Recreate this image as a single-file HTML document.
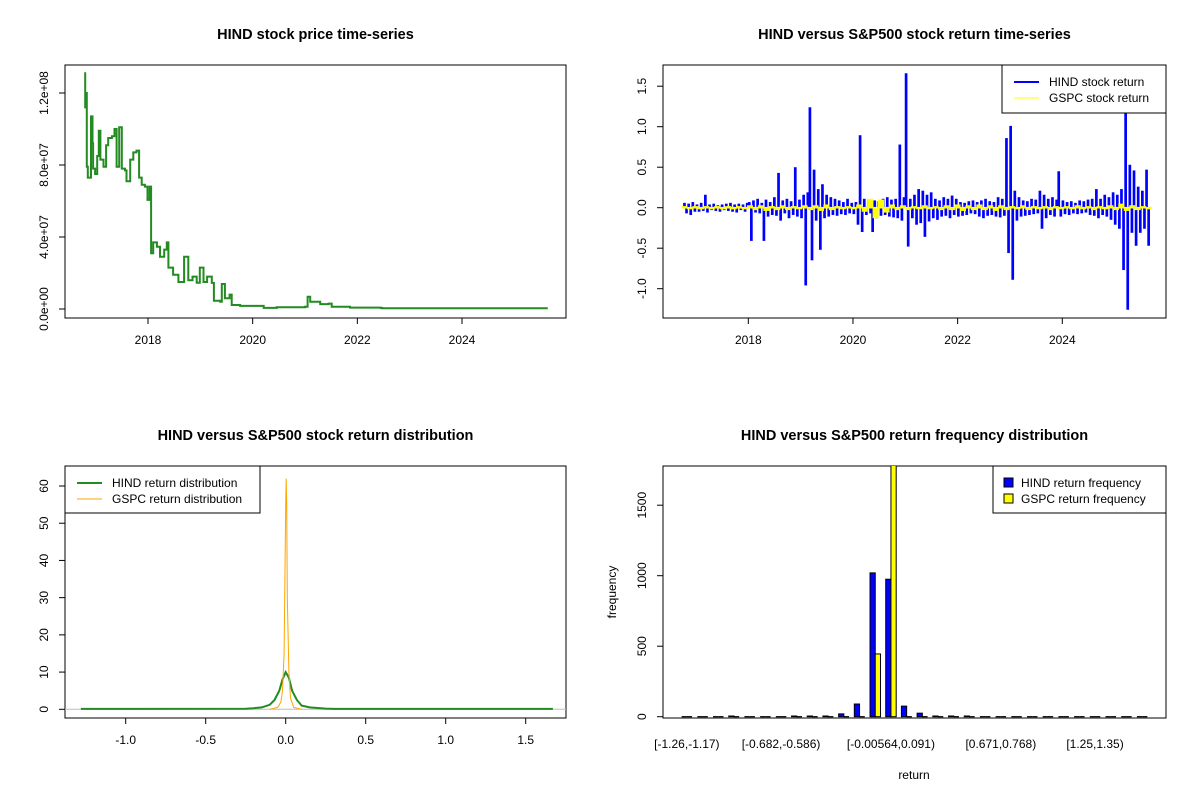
<!DOCTYPE html>
<html><head><meta charset="utf-8"><style>
html,body{margin:0;padding:0;background:#fff}
svg{display:block;font-family:"Liberation Sans",Arial,sans-serif}
</style></head><body>
<svg id="chart" width="1200" height="800" viewBox="0 0 1200 800"></svg>
<script>
// ---- Panel 1: price ----
const priceYears=[2016.78,2016.80,2016.81,2016.83,2016.85,2016.91,2016.94,2016.95,2016.99,2017.03,2017.06,2017.09,2017.15,2017.20,2017.24,2017.31,2017.36,2017.40,2017.45,2017.50,2017.56,2017.59,2017.66,2017.72,2017.78,2017.83,2017.88,2017.94,2017.99,2018.03,2018.06,2018.10,2018.17,2018.23,2018.31,2018.36,2018.39,2018.48,2018.58,2018.69,2018.77,2018.85,2018.93,2018.99,2019.06,2019.13,2019.22,2019.26,2019.38,2019.41,2019.47,2019.56,2019.60,2019.76,2020.14,2020.21,2020.46,2020.78,2021.00,2021.05,2021.10,2021.29,2021.45,2021.51,2021.86,2022.44,2022.47,2025.64];
const priceVals=[13.1,11.2,12.0,7.9,7.3,10.7,9.2,7.8,7.5,8.5,9.9,8.3,7.9,9.1,9.5,9.6,10.0,7.9,10.1,7.8,7.7,7.1,8.3,8.7,8.8,7.3,6.9,6.8,6.06,6.8,3.1,3.7,3.46,2.9,3.3,3.7,2.3,1.9,1.5,2.9,1.6,1.8,1.46,2.3,1.5,1.8,1.45,0.46,0.4,1.39,0.6,0.8,0.22,0.17,0.17,0.06,0.1,0.1,0.13,0.68,0.4,0.27,0.3,0.13,0.08,0.06,0.04,0.04]; // x 1e7
const priceTicks=[0,4,8,12];
const priceTickLabels=["0.0e+00","4.0e+07","8.0e+07","1.2e+08"];
const yearTicks=[2018,2020,2022,2024];
// ---- Panel 2: returns ----
const retStart=2016.78, retEnd=2025.65;
const hindRet=[0.05,-0.06,0.04,-0.08,0.06,-0.04,
0.03,-0.04,0.05,-0.03,0.15,-0.05,0.03,-0.02,0.04,-0.03,0.02,-0.04,0.03,-0.02,0.04,-0.03,0.05,-0.04,0.03,-0.05,0.04,-0.02,0.03,-0.04,0.05,
0.06,-0.40,0.08,-0.05,0.10,-0.06,0.05,-0.40,0.09,-0.10,0.06,-0.08,0.12,-0.09,0.42,-0.15,0.08,-0.06,0.10,-0.12,0.07,-0.08,0.49,-0.10,0.09,
-0.12,0.15,-0.95,0.18,1.23,-0.64,0.46,-0.15,0.22,-0.51,0.28,-0.12,0.15,-0.10,0.12,-0.08,0.10,-0.09,0.08,-0.07,0.06,-0.08,0.10,-0.06,0.05,
-0.07,0.06,-0.20,0.885,-0.29,0.10,-0.08,0.09,-0.06,-0.29,0.08,-0.12,0.07,-0.09,0.10,-0.08,0.12,-0.10,0.09,-0.11,0.10,-0.12,0.77,-0.15,0.12,
1.65,-0.47,0.10,-0.12,0.15,-0.20,0.22,-0.18,0.20,-0.35,0.15,-0.16,0.18,-0.12,0.10,-0.14,0.08,-0.10,0.12,-0.09,0.10,-0.12,0.14,-0.08,0.10,
-0.10,0.06,-0.09,0.05,-0.08,0.07,-0.06,0.08,-0.07,0.06,-0.10,0.08,-0.12,0.10,-0.09,0.07,-0.08,0.06,-0.10,0.12,-0.11,0.10,-0.09,0.85,-0.55,
1.0,-0.88,0.20,-0.15,0.12,-0.10,0.08,-0.09,0.07,-0.08,0.10,-0.07,0.09,-0.06,0.20,-0.25,0.15,-0.12,0.10,-0.08,0.12,-0.10,0.09,0.44,-0.10,
0.08,-0.07,0.06,-0.08,0.07,-0.06,0.05,-0.07,0.08,-0.06,0.07,-0.05,0.09,-0.08,0.10,-0.09,0.22,-0.12,0.10,-0.08,0.15,-0.10,0.12,-0.14,0.18,
-0.20,0.15,-0.25,0.22,-0.76,1.17,-1.25,0.52,-0.30,0.45,-0.46,0.25,-0.30,0.20,-0.25,0.46,-0.46];
const gspcRet=[0.01,-0.01,0.01,-0.01,0.01,-0.01,0.01,-0.01,0.01,-0.01,0.01,-0.01,0.02,-0.02,0.02,-0.03,0.01,-0.02,0.02,-0.02,0.01,-0.01,0.02,-0.02,0.02,-0.03,0.03,-0.02,0.01,-0.01,0.01,-0.01,0.03,-0.04,0.10,-0.12,0.09,-0.05,0.03,-0.02,0.02,-0.02,0.01,-0.01,0.02,-0.01,0.01,-0.02,0.02,-0.02,0.03,-0.03,0.02,-0.02,0.03,-0.02,0.02,-0.03,0.02,-0.02,0.01,-0.01,0.02,-0.02,0.01,-0.01,0.01,-0.02,0.01,-0.01,0.01,-0.01,0.02,-0.01,0.01,-0.02,0.01,-0.01,0.02,-0.02,0.04,-0.03,0.02,-0.02,0.01,-0.01];
const retTicks=[-1.0,-0.5,0.0,0.5,1.0,1.5];
// ---- Panel 3: density ----
const hindDensX=[-1.28,-0.25,-0.2,-0.15,-0.1,-0.07,-0.04,-0.02,0,0.02,0.04,0.07,0.1,0.15,0.25,0.3,1.67];
const hindDensY=[0.1,0.15,0.3,0.5,1.2,2.5,5,8,10,8.5,5,2.5,1,0.5,0.2,0.1,0.1];
const gspcDensX=[-0.1,-0.05,-0.03,-0.02,-0.01,-0.005,0,0.003,0.006,0.01,0.02,0.03,0.05,0.1];
const gspcDensY=[0,0.5,2,5,15,35,55,62,55,30,10,3,0.5,0];
const densYTicks=[0,10,20,30,40,50,60];
const densXTicks=[-1.0,-0.5,0.0,0.5,1.0,1.5];
// ---- Panel 4: histogram ----
const hindFreq=[0,0,0,5,0,0,0,5,5,5,20,90,1020,975,75,25,5,5,5,0,0,0,0,0,0,0,0,0,0,0];
const gspcFreq=[0,0,0,0,0,0,0,0,0,0,0,0,445,1830,0,0,0,0,0,0,0,0,0,0,0,0,0,0,0,0];
const binLabels=["[-1.26,-1.17)","[-0.682,-0.586)","[-0.00564,0.091)","[0.671,0.768)","[1.25,1.35)"];
const binLabelIdx=[0,6,13,20,26];
const freqTicks=[0,500,1000,1500];

const NS="http://www.w3.org/2000/svg";
const svg=document.getElementById('chart');
function mk(tag,attrs,parent,text){const e=document.createElementNS(NS,tag);for(const k in attrs)e.setAttribute(k,attrs[k]);if(text!==undefined)e.textContent=text;(parent||svg).appendChild(e);return e;}
function lin(d0,d1,r0,r1){return v=>r0+(v-d0)*(r1-r0)/(d1-d0);}

function frame(x0,y0,x1,y1,title,pname){
  const g=mk('g',{});
  
  
  const r=mk('rect',{x:x0,y:y0,width:x1-x0,height:y1-y0,fill:'none',stroke:'#000','stroke-width':1},g);
  
  
  const t=mk('text',{x:(x0+x1)/2,y:y0-26,'text-anchor':'middle','font-size':14.5,'font-weight':'bold'},g,title);
  
  
  return g;
}
function yAxis(g,ticks,labels,sy,x0){
  ticks.forEach((v,i)=>{
    const y=sy(v);
    mk('line',{x1:x0,x2:x0-6,y1:y,y2:y,stroke:'#000'},g);
    const t=mk('text',{x:x0-17,y:y,'font-size':12,'text-anchor':'middle',transform:`rotate(-90 ${x0-17} ${y})`},g,labels[i]);
    
    
  });
}
function xAxis(g,ticks,labels,sx,y0){
  ticks.forEach((v,i)=>{
    const x=sx(v);
    mk('line',{x1:x,x2:x,y1:y0,y2:y0+6,stroke:'#000'},g);
    const t=mk('text',{x:x,y:y0+26,'font-size':12,'text-anchor':'middle'},g,labels[i]);
    
    
  });
}
function poly(g,xs,ys,color,w,name){
  const p=mk('polyline',{points:xs.map((x,i)=>x.toFixed(1)+','+ys[i].toFixed(1)).join(' '),fill:'none',stroke:color,'stroke-width':w,'stroke-linejoin':'miter'},g);
  
  
}
function stepPath(g,xs,ys,color,w,name){
  let d='M'+xs[0].toFixed(1)+','+ys[0].toFixed(1);
  for(let i=1;i<xs.length;i++){d+=' H'+xs[i].toFixed(1)+' V'+ys[i].toFixed(1);}
  const p=mk('path',{d:d,fill:'none',stroke:color,'stroke-width':w},g);
  
  
}
function combRects(g,xs,ys,y0,color,w,name){
  const cg=mk('g',{fill:color},g);
  
  
  xs.forEach((x,i)=>{
    const top=Math.min(ys[i],y0)-0.8, h=Math.abs(ys[i]-y0)+1.6;
    mk('rect',{x:(x-w/2).toFixed(2),y:top.toFixed(2),width:w,height:h.toFixed(2)},cg);
  });
}
function legend(g,x0,y0,x1,y1,items,kind){
  const lg=mk('g',{},g);
  
  
  mk('rect',{x:x0,y:y0,width:x1-x0,height:y1-y0,fill:'#fff',stroke:'#000'},lg);
  items.forEach((it,i)=>{
    const y=y0+17+i*16;
    if(kind==='line') mk('line',{x1:x0+12,x2:x0+37,y1:y,y2:y,stroke:it.c,'stroke-width':it.w},lg);
    else mk('rect',{x:x0+11,y:y-5,width:9,height:9,fill:it.c,stroke:'#000'},lg);
    const t=mk('text',{x:x0+(kind==='line'?47:28),y:y+4,'font-size':12},lg,it.t);
    
    
  });
}

// Panel 1
(function(){
  const g=frame(65,65,566,318,'HIND stock price time-series','price-panel');
  const sx=lin(2018,2024,148,462), sy=lin(0,12,309,93);
  yAxis(g,priceTicks,priceTickLabels,sy,65);
  xAxis(g,yearTicks,yearTicks.map(String),sx,318);
  stepPath(g,priceYears.map(sx),priceVals.map(sy),'#228B22',2,'price-line');
})();
// Panel 2
(function(){
  const g=frame(663,65,1166,318,'HIND versus S&P500 stock return time-series','return-panel');
  const sx=lin(2018,2024,748.3,1062.3), sy=lin(0,1,207.7,126.7);
  yAxis(g,retTicks,retTicks.map(v=>v.toFixed(1)),sy,663);
  xAxis(g,yearTicks,yearTicks.map(String),sx,318);
  const hx=hindRet.map((v,i)=>sx(retStart+(retEnd-retStart)*i/(hindRet.length-1)));
  const hw=(hx[1]-hx[0])+0.6;
  combRects(g,hx,hindRet.map(sy),sy(0),'#0000ff',hw,'hind-return-line');
  const gx=gspcRet.map((v,i)=>sx(retStart+(retEnd-retStart)*i/(gspcRet.length-1)));
  const gw=(gx[1]-gx[0])+0.6;
  combRects(g,gx,gspcRet.map(sy),sy(0),'#ffff00',gw,'gspc-return-line');
  legend(g,1002,65,1166,113,[{t:'HIND stock return',c:'#0000ff',w:2},{t:'GSPC stock return',c:'#ffff00',w:1}],'line');
})();
// Panel 3
(function(){
  const g=frame(65,466,566,718,'HIND versus S&P500 stock return distribution','density-panel');
  const sx=lin(0,1,285.7,445.7), sy=lin(0,60,709.3,486);
  yAxis(g,densYTicks,densYTicks.map(String),sy,65);
  xAxis(g,densXTicks,densXTicks.map(v=>v.toFixed(1)),sx,718);
  const base=mk('line',{x1:65,x2:566,y1:sy(0),y2:sy(0),stroke:'#bebebe'},g);
  
  
  poly(g,hindDensX.map(sx),hindDensY.map(sy),'#228B22',2,'hind-density-line');
  poly(g,gspcDensX.map(sx),gspcDensY.map(sy),'#ffa500',1,'gspc-density-line');
  legend(g,65,466,260,513,[{t:'HIND return distribution',c:'#228B22',w:2},{t:'GSPC return distribution',c:'#ffa500',w:1}],'line');
})();
// Panel 4
(function(){
  const g=frame(663,466,1166,718,'HIND versus S&P500 return frequency distribution','histogram-panel');
  const sx=lin(-2.56,93.56,663,1166), sy=lin(0,1000,716.7,575.7);
  yAxis(g,freqTicks,freqTicks.map(String),sy,663);
  const clip=mk('clipPath',{id:'c4'},g); mk('rect',{x:663,y:466,width:503,height:252},clip);
  const bars=mk('g',{'clip-path':'url(#c4)'},g);
  function bar(v,u,fill,name){
    let b;
    if(sy(0)-sy(v)<0.5) b=mk('line',{x1:sx(u),x2:sx(u+1),y1:sy(0),y2:sy(0),stroke:'#000','stroke-width':1.2},bars);
    else b=mk('rect',{x:sx(u),y:sy(v),width:sx(1)-sx(0),height:sy(0)-sy(v),fill:fill,stroke:'#000','stroke-width':1},bars);
    
    
  }
  hindFreq.forEach((v,i)=>bar(v,3*i+1,'#0000ff','hind-bar'));
  gspcFreq.forEach((v,i)=>bar(v,3*i+2,'#ffff00','gspc-bar'));
  binLabelIdx.forEach((gi,k)=>{
    const t=mk('text',{x:sx(3*gi+2),y:748,'font-size':12,'text-anchor':'middle'},g,binLabels[k]);
    
    
  });
  const xl=mk('text',{x:914,y:779,'font-size':12,'text-anchor':'middle'},g,'return');
  
  
  const yl=mk('text',{x:616,y:592,'font-size':12,'text-anchor':'middle',transform:'rotate(-90 616 592)'},g,'frequency');
  
  
  legend(g,993,466,1166,513,[{t:'HIND return frequency',c:'#0000ff'},{t:'GSPC return frequency',c:'#ffff00'}],'box');
})();
</script>
</body></html>
